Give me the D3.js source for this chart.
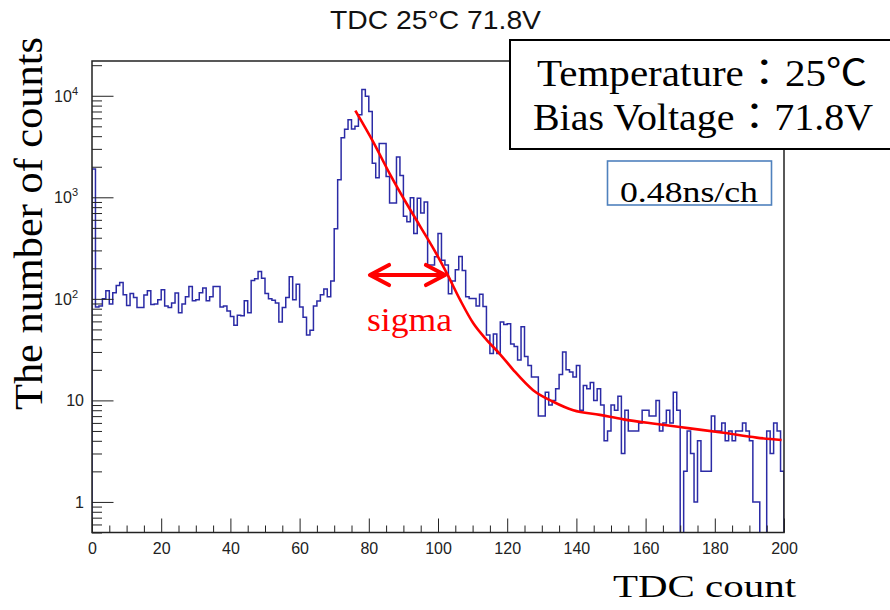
<!DOCTYPE html>
<html>
<head>
<meta charset="utf-8">
<script src="https://cdn.jsdelivr.net/npm/d3@7/dist/d3.min.js"></script>
<style>
  body { margin: 0; background: #fff; }
  svg { display: block; }
  .tick text { font-family: "Liberation Sans", Arial, sans-serif; font-size: 16px; fill: #222; }
</style>
</head>
<body>
<svg width="890" height="610"></svg>
<script>
// TDC histogram, 1 count per bin, bins 0..199
const counts0to49 = [1900, 83, 85, 100, 120, 89, 115, 135, 145, 110,
  86, 113, 103, 82, 82, 109, 120, 88, 89, 98,
  123, 85, 82, 91, 114, 73, 89, 105, 132, 96,
  98, 115, 128, 96, 105, 132, 132, 83, 85, 76,
  67, 55, 69, 68, 96, 73, 152, 158, 186, 160];
const counts50to99 = [113, 100, 97, 91, 59, 82, 103, 165, 98, 139,
  83, 66, 44, 49, 85, 95, 110, 125, 105, 150,
  490, 1490, 3860, 4670, 5800, 4700, 5000, 6500, 11500, 9900,
  7000, 2170, 1560, 3380, 3380, 1600, 880, 880, 2500, 1640,
  650, 575, 990, 440, 980, 700, 900, 215, 215, 260];
const counts100to149 = [440, 240, 215, 112, 150, 193, 262, 190, 105, 101,
  101, 85, 111, 84, 44, 29, 45, 29, 59, 56,
  57, 36, 34, 25, 53, 27, 22, 17, 17, 7,
  7, 12, 9, 10, 13, 18, 30, 20, 19, 17,
  22, 8, 14, 13, 15, 10, 13, 9, 4, 5];
const counts150to199 = [9, 8, 11, 3, 8, 5, 5, 5, 6, 8,
  8, 7, 7, 10, 5, 6, 8, 6, 12, 8,
  0, 2, 5, 3, 1, 4, 2, 2, 2, 7,
  5, 5, 6, 4, 5, 4, 5, 5, 6, 5,
  4, 1, 1, 0, 0, 5, 3, 6, 5, 2];
const counts = [...counts0to49, ...counts50to99, ...counts100to149, ...counts150to199];

// fitted curve
const fitX = [76.1, 81.3, 86.1, 91.0, 94.8, 98.6, 102.5, 106.4, 110.2, 114.1, 117.9,
  121.8, 127.5, 133.3, 139.1, 146.8, 153.6, 163.2, 172.8, 182.5, 192.1, 199.3];
const fitY = [7150, 3500, 1694, 859, 521, 316, 180, 97.5, 57.4, 39.3, 28.6,
  19.9, 12.6, 9.7, 8.0, 7.2, 6.5, 5.85, 5.3, 4.8, 4.3, 4.07];

const xTicks = [0, 20, 40, 60, 80, 100, 120, 140, 160, 180, 200];
const yDecades = [1, 10, 100, 1000, 10000];
const yLabels = [["1", ""], ["10", ""], ["10", "2"], ["10", "3"], ["10", "4"]];

const svg = d3.select("svg");
const plotL = 92, plotR = 784, plotT = 61, plotB = 532.5;

const x = d3.scaleLinear().domain([0, 200]).range([plotL, plotR]);
const y = d3.scaleLog().domain([0.5, 22000]).range([plotB, plotT]);

svg.append("rect").attr("width", 890).attr("height", 610).attr("fill", "#fff");

svg.append("clipPath").attr("id", "plot")
  .append("rect").attr("x", plotL).attr("y", plotT)
  .attr("width", plotR - plotL).attr("height", plotB - plotT);

// Histogram outline as steps
const pts = [[x(0), plotB + 10]];
counts.forEach((c, i) => {
  const yy = c > 0 ? y(c) : plotB + 10;
  pts.push([x(i), yy], [x(i + 1), yy]);
});
pts.push([x(200), plotB + 10]);

svg.append("path")
  .attr("clip-path", "url(#plot)")
  .attr("d", d3.line()(pts))
  .attr("fill", "none")
  .attr("stroke", "#2b2ba6")
  .attr("stroke-width", 1.5);

// Fit curve
svg.append("path")
  .attr("clip-path", "url(#plot)")
  .attr("d", d3.line().x(d => x(d[0])).y(d => y(d[1])).curve(d3.curveMonotoneX)(fitX.map((v, i) => [v, fitY[i]])))
  .attr("fill", "none")
  .attr("stroke", "#ff0000")
  .attr("stroke-width", 2.6);

// Frame
svg.append("rect")
  .attr("x", plotL).attr("y", plotT)
  .attr("width", plotR - plotL).attr("height", plotB - plotT)
  .attr("fill", "none").attr("stroke", "#222").attr("stroke-width", 1.5);

// X axis: major + minor ticks pointing inward
const xMajor = svg.append("g").attr("transform", `translate(0,${plotB})`)
  .call(d3.axisBottom(x).tickValues(xTicks).tickSize(-14).tickPadding(10).tickFormat(d3.format("d")));
xMajor.select(".domain").remove();
xMajor.selectAll("line").attr("stroke", "#222");

const xMinor = svg.append("g").attr("transform", `translate(0,${plotB})`)
  .call(d3.axisBottom(x).tickValues(d3.range(0, 201, 5).filter(v => v % 20 !== 0)).tickSize(-7).tickFormat(""));
xMinor.select(".domain").remove();
xMinor.selectAll("line").attr("stroke", "#222");

// Y axis: log ticks
const yMinorVals = [];
[0.1, 1, 10, 100, 1000, 10000].forEach(d => {
  for (let k = 2; k <= 9; k++) {
    const v = d * k;
    if (v >= 0.5 && v <= 22000) yMinorVals.push(v);
  }
});
const yMajor = svg.append("g").attr("transform", `translate(${plotL},0)`)
  .call(d3.axisLeft(y).tickValues(yDecades).tickSize(-21.5).tickFormat(""));
yMajor.select(".domain").remove();
yMajor.selectAll("line").attr("stroke", "#222");

const yMinor = svg.append("g").attr("transform", `translate(${plotL},0)`)
  .call(d3.axisLeft(y).tickValues(yMinorVals).tickSize(-10).tickFormat(""));
yMinor.select(".domain").remove();
yMinor.selectAll("line").attr("stroke", "#222");

// Y tick labels with superscripts
yDecades.forEach((v, i) => {
  const [base, sup] = yLabels[i];
  const t = svg.append("text")
    .attr("x", sup ? 78 : 84)
    .attr("y", y(v) + 6)
    .attr("text-anchor", "end")
    .attr("font-family", "Liberation Sans, Arial, sans-serif")
    .attr("font-size", 16)
    .attr("fill", "#222");
  t.append("tspan").text(base);
  if (sup) t.append("tspan").attr("font-size", 11).attr("dy", -7).text(sup);
});

// Title
svg.append("text")
  .attr("x", 330).attr("y", 29)
  .attr("font-family", "Liberation Sans, Arial, sans-serif")
  .attr("font-size", 25)
  .attr("textLength", 211).attr("lengthAdjust", "spacingAndGlyphs")
  .attr("fill", "#111")
  .text("TDC 25°C 71.8V");

// Axis titles
svg.append("text")
  .attr("x", 613).attr("y", 597)
  .attr("font-family", "Liberation Serif, Times New Roman, serif")
  .attr("font-size", 31)
  .attr("textLength", 183).attr("lengthAdjust", "spacingAndGlyphs")
  .attr("fill", "#000")
  .text("TDC count");

svg.append("text")
  .attr("transform", "translate(42,410) rotate(-90)")
  .attr("font-family", "Liberation Serif, Times New Roman, serif")
  .attr("font-size", 40)
  .attr("textLength", 373).attr("lengthAdjust", "spacingAndGlyphs")
  .attr("fill", "#000")
  .text("The number of counts");

// Sigma arrow
const ay = 275, ax1 = 370, ax2 = 445;
const red = "#ff0000";
const arrow = svg.append("g").attr("stroke", red).attr("stroke-width", 4.2)
  .attr("fill", "none").attr("stroke-linecap", "round").attr("stroke-linejoin", "round");
arrow.append("line").attr("x1", ax1 + 2).attr("x2", ax2 - 2).attr("y1", ay).attr("y2", ay);
arrow.append("polyline").attr("points", `${ax1 + 19},${ay - 10} ${ax1},${ay} ${ax1 + 19},${ay + 10}`);
arrow.append("polyline").attr("points", `${ax2 - 19},${ay - 10} ${ax2},${ay} ${ax2 - 19},${ay + 10}`);

svg.append("text")
  .attr("x", 367).attr("y", 331)
  .attr("font-family", "Liberation Serif, Times New Roman, serif")
  .attr("font-size", 33)
  .attr("textLength", 85).attr("lengthAdjust", "spacingAndGlyphs")
  .attr("fill", red)
  .text("sigma");

// Condition box
svg.append("rect")
  .attr("x", 510).attr("y", 40).attr("width", 400).attr("height", 109)
  .attr("fill", "#fff").attr("stroke", "#000").attr("stroke-width", 2);
svg.append("text")
  .attr("x", 537).attr("y", 86)
  .attr("font-family", "Liberation Serif, Times New Roman, 'Noto Sans CJK JP', serif")
  .attr("font-size", 37)
  .attr("textLength", 330).attr("lengthAdjust", "spacingAndGlyphs")
  .text("Temperature：25℃");
svg.append("text")
  .attr("x", 533).attr("y", 130)
  .attr("font-family", "Liberation Serif, Times New Roman, 'Noto Sans CJK JP', serif")
  .attr("font-size", 37)
  .attr("textLength", 340).attr("lengthAdjust", "spacingAndGlyphs")
  .text("Bias Voltage：71.8V");

// Channel width box
svg.append("rect")
  .attr("x", 607.5).attr("y", 161).attr("width", 164).attr("height", 44)
  .attr("fill", "#fff").attr("stroke", "#4f81bd").attr("stroke-width", 1.6);
svg.append("text")
  .attr("x", 620).attr("y", 202)
  .attr("font-family", "Liberation Serif, Times New Roman, serif")
  .attr("font-size", 29)
  .attr("textLength", 138).attr("lengthAdjust", "spacingAndGlyphs")
  .text("0.48ns/ch");
</script>
</body>
</html>
